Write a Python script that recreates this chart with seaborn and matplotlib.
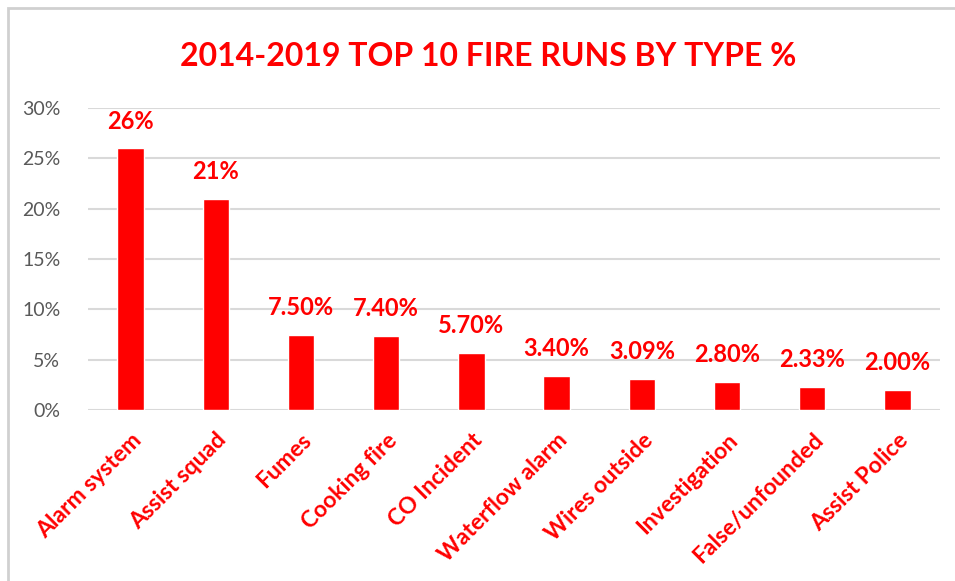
import matplotlib
matplotlib.use("Agg")
import matplotlib.pyplot as plt
import seaborn as sns
import pandas as pd
from matplotlib.patches import Rectangle

categories = ["Alarm system", "Assist squad", "Fumes", "Cooking fire", "CO Incident",
              "Waterflow alarm", "Wires outside", "Investigation", "False/unfounded", "Assist Police"]
values = [26.0, 21.0, 7.50, 7.40, 5.70, 3.40, 3.09, 2.80, 2.33, 2.00]
value_labels = ["26%", "21%", "7.50%", "7.40%", "5.70%", "3.40%", "3.09%", "2.80%", "2.33%", "2.00%"]
y_ticks = [0, 5, 10, 15, 20, 25, 30]

sns.set_theme(style="white")
plt.rcParams["font.family"] = ["Lato", "DejaVu Sans"]

RED = "#ff0000"
df = pd.DataFrame({"type": categories, "pct": values})

fig = plt.figure(figsize=(9.55, 5.81), dpi=100)
fig.patch.set_facecolor("white")

# chart frame
fig.patches.append(Rectangle((8 / 955, -0.1), 1.1, 1.1 - 8 / 581, transform=fig.transFigure,
                             fill=False, edgecolor="#d0d0d0", linewidth=2, zorder=0))

ax = fig.add_axes([88 / 955, 1 - 410 / 581, (940 - 88) / 955, (410 - 108) / 581])
sns.barplot(data=df, x="type", y="pct", color=RED, saturation=1, width=0.31, ax=ax, zorder=3)

ax.set_ylim(0, 30)
ax.set_xlim(-0.5, len(categories) - 0.5)
ax.set_yticks(y_ticks)
ax.set_yticklabels([f"{t}%" for t in y_ticks], color="#595959", fontsize=14)
ax.yaxis.grid(True, color="#d9d9d9", linewidth=1.5, zorder=0)
ax.set_axisbelow(True)
for s in ax.spines.values():
    s.set_visible(False)
ax.tick_params(axis="both", length=0)
ax.tick_params(axis="y", pad=20)

ax.set_xticks(range(len(categories)))
ax.set_xticklabels(categories, rotation=45, ha="right", rotation_mode="anchor",
                   color=RED, fontsize=16.5, fontweight="bold")
ax.tick_params(axis="x", pad=14)
ax.set_xlabel("")
ax.set_ylabel("")

for i, (v, lab) in enumerate(zip(values, value_labels)):
    ax.annotate(lab, (i, v), xytext=(0, 14), textcoords="offset points",
                ha="center", va="baseline", color=RED, fontsize=17, fontweight="bold")

fig.text(488 / 955, 1 - 56 / 581, "2014-2019 TOP 10 FIRE RUNS BY TYPE %", ha="center", va="center",
         color=RED, fontsize=23, fontweight="bold")

fig.savefig("out.png", dpi=100)
